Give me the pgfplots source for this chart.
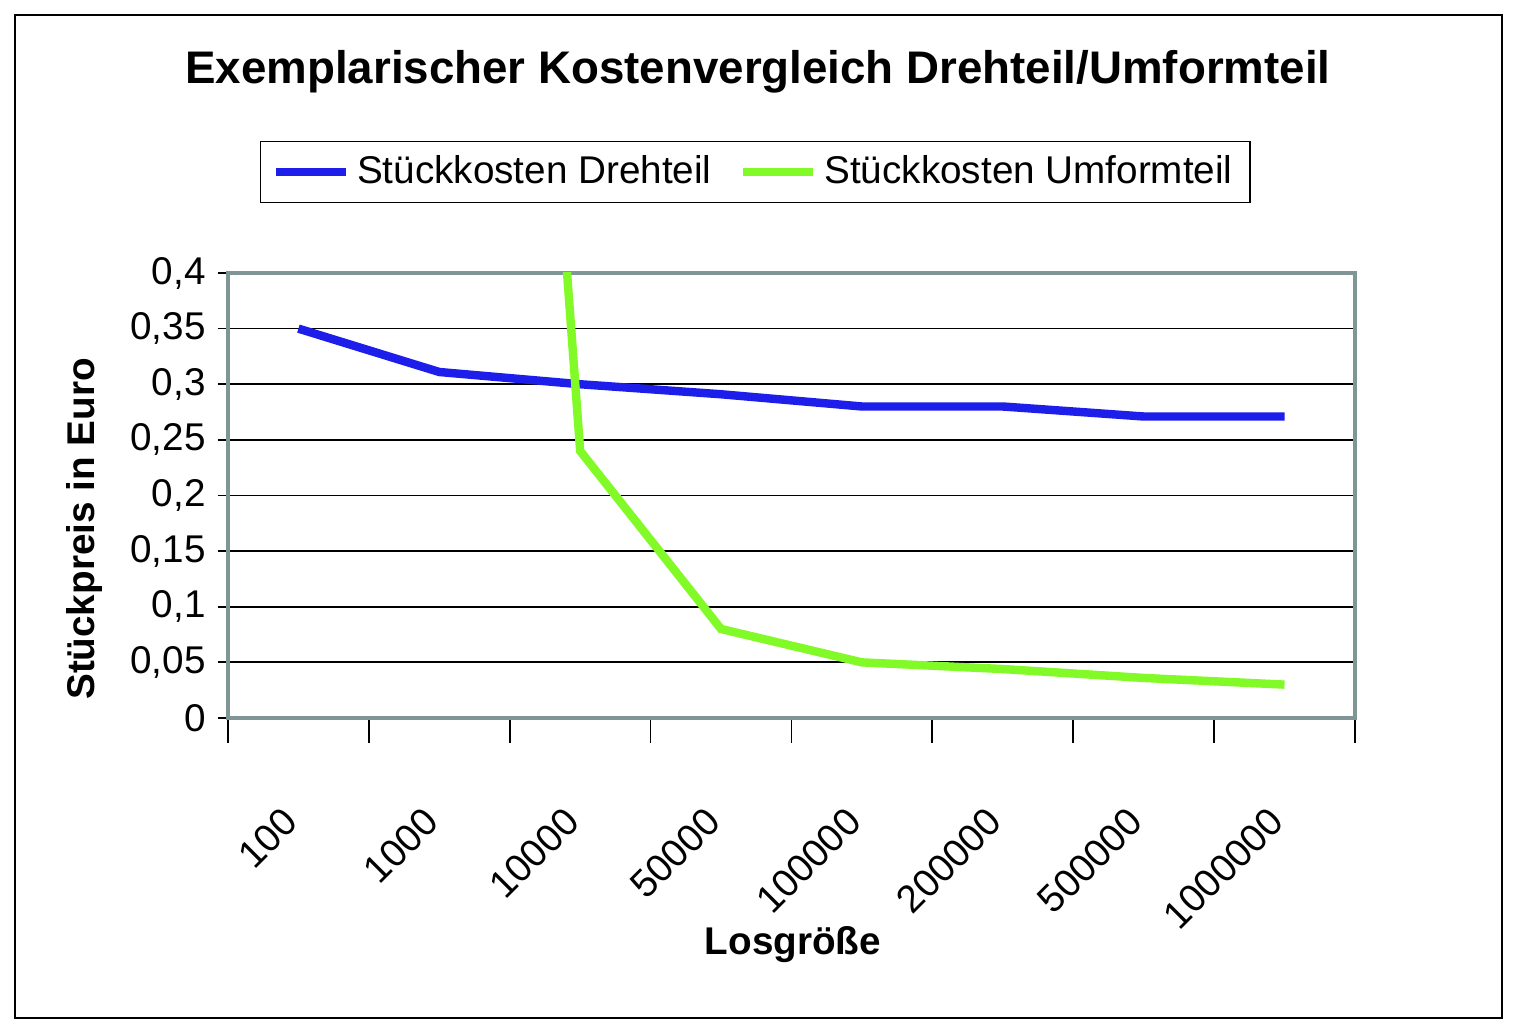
\documentclass[border=0pt]{standalone}
\usepackage{pgfplots}
\pgfplotsset{compat=1.18}
\usepackage{fontspec}
\setmainfont{Liberation Sans}
\definecolor{lblue}{RGB}{30,30,235}
\definecolor{lgreen}{RGB}{130,250,40}
\definecolor{frm}{RGB}{128,150,150}
\begin{document}
\begin{tikzpicture}[x=1mm,y=1mm]
\fill[white] (0,0) rectangle (152.1,103.4);
\draw[black,line width=0.4pt] (1.5,1.6) rectangle (150.2,101.9);
\node[font=\bfseries\fontsize{13}{15}\selectfont] at (75.8,96.2) {Exemplarischer Kostenvergleich Drehteil/Umformteil};
\node[font=\bfseries\fontsize{11}{13}\selectfont,rotate=90] at (8.5,50.5) {Stückpreis in Euro};
\node[font=\bfseries\fontsize{11}{13}\selectfont] at (79.3,8.9) {Losgröße};
\begin{axis}[at={(22.8mm,31.6mm)},anchor=south west,
 width=112.7mm,height=44.5mm,scale only axis,
 xmin=-0.5,xmax=7.5,ymin=0,ymax=0.4,
 axis line style={frm,line width=1.2pt},
 xtick pos=bottom, ytick pos=left,
 ytick={0,0.05,...,0.4},
 yticklabels={0,{0,05},{0,1},{0,15},{0,2},{0,25},{0,3},{0,35},{0,4}},
 ymajorgrids,grid style={black,line width=0.5pt},
 xtick={0,...,7},
 xticklabels={100,1000,10000,50000,100000,200000,500000,1000000},
 major x tick style={draw=none},
 minor xtick={-0.5,0.5,...,7.5},
 minor x tick style={black},
 minor tick length=2.5mm,
 xtick align=outside, ytick align=outside,
 major y tick style={black}, major tick length=1mm,
 x tick label style={rotate=45,anchor=north east,font=\fontsize{11}{13}\selectfont,yshift=-3mm,xshift=-5.5mm},
 y tick label style={font=\fontsize{11}{13}\selectfont},
 tick style={line width=0.5pt},
 clip=true,
 legend columns=2,
 legend style={at={(0.468,1.227)},anchor=center,draw=black,line width=0.4pt,
   font=\fontsize{11}{13}\selectfont,/tikz/every even column/.append style={column sep=2mm}},
 legend image code/.code={\draw[#1,line width=2.5pt](0mm,0mm)--(7mm,0mm);}
]
\addplot[lblue,line width=2.4pt] coordinates {(0,0.35)(1,0.311)(2,0.30)(3,0.291)(4,0.28)(5,0.28)(6,0.271)(7,0.271)};
\addlegendentry{Stückkosten Drehteil}
\addplot[lgreen,line width=2.4pt] coordinates {(1,1.96)(2,0.24)(3,0.08)(4,0.05)(5,0.044)(6,0.036)(7,0.03)};
\addlegendentry{Stückkosten Umformteil}
\end{axis}
\end{tikzpicture}
\end{document}
